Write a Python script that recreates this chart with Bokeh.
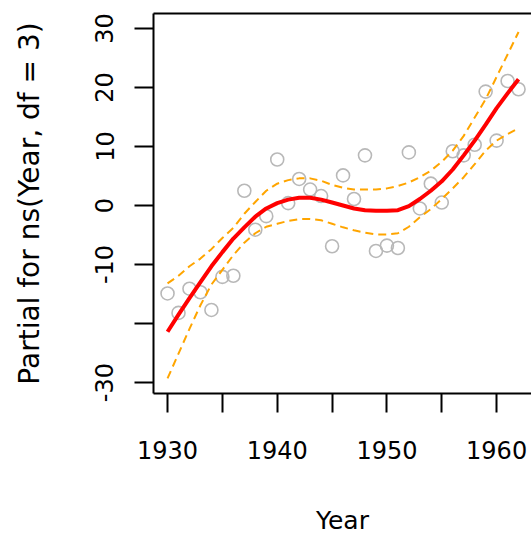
from bokeh.plotting import figure
from bokeh.models import LinearAxis, FixedTicker, Range1d
from bokeh.embed import file_html
from bokeh.resources import INLINE

years = list(range(1930, 1963))
partial = [-14.9, -18.2, -14.1, -14.7, -17.7, -12.1, -11.9, 2.5, -4.1, -1.8,
           7.8, 0.4, 4.5, 2.7, 1.6, -6.9, 5.1, 1.1, 8.5, -7.7,
           -6.8, -7.2, 9.0, -0.5, 3.7, 0.5, 9.2, 8.5, 10.3, 19.3,
           11.0, 21.1, 19.7]
fit = [-21.4, -18.5, -15.7, -13.0, -10.3, -7.9, -5.6, -3.7, -1.9, -0.5,
       0.4, 1.0, 1.3, 1.3, 1.0, 0.5, 0.0, -0.5, -0.8, -0.9,
       -0.9, -0.8, -0.1, 1.1, 2.5, 4.1, 6.1, 8.5, 11.0, 13.7,
       16.5, 19.0, 21.4]
upper = [-13.2, -11.9, -10.3, -9.0, -7.4, -5.5, -3.8, -1.4, 0.6, 2.5,
         3.7, 4.3, 4.6, 4.6, 4.2, 3.5, 3.0, 2.7, 2.7, 2.7,
         2.9, 3.3, 3.9, 4.8, 5.9, 7.4, 9.3, 11.8, 14.9, 18.0,
         21.8, 25.6, 29.4]
lower = [-29.3, -25.1, -20.9, -16.9, -13.4, -10.9, -8.4, -6.3, -4.7, -3.6,
         -3.1, -2.6, -2.3, -2.3, -2.5, -3.1, -3.7, -4.2, -4.6, -4.9,
         -4.9, -4.7, -3.6, -2.0, -0.6, 1.1, 2.9, 4.8, 7.0, 9.3,
         11.0, 12.1, 13.1]

x_ticks = [1930, 1935, 1940, 1945, 1950, 1955, 1960]
x_tick_labels = ["1930", "", "1940", "", "1950", "", "1960"]
y_ticks = [-30, -20, -10, 0, 10, 20, 30]
y_tick_labels = ["-30", "", "-10", "0", "10", "20", "30"]
x_label = "Year"
y_label = "Partial for ns(Year, df = 3)"

FONT = "DejaVu Sans"

p = figure(width=531, height=540, output_backend="svg", toolbar_location=None,
           x_range=Range1d(1928.72, 1963.18), y_range=Range1d(-31.86, 32.54),
           min_border_left=153, min_border_right=0, min_border_top=13,
           min_border_bottom=147)
p.outline_line_color = None
p.xgrid.visible = False
p.ygrid.visible = False
p.background_fill_color = "white"
p.border_fill_color = "white"

p.scatter(years, partial, size=13, marker="circle", fill_color=None,
          line_color="#b8b8b8", line_width=1.6)
p.line(years, upper, line_color="#ffa500", line_width=2, line_dash="8 5")
p.line(years, lower, line_color="#ffa500", line_width=2, line_dash="8 5")
p.line(years, fit, line_color="#ff0000", line_width=4)

for ax in (p.xaxis[0], p.yaxis[0]):
    ax.axis_line_width = 2
    ax.axis_line_color = "black"
    ax.major_tick_line_width = 2
    ax.major_tick_line_color = "black"
    ax.major_tick_out = 19
    ax.major_tick_in = 0
    ax.minor_tick_line_color = None
    ax.major_label_text_font = FONT
    ax.major_label_text_color = "black"
    ax.axis_label_text_font = FONT
    ax.axis_label_text_font_style = "normal"
    ax.axis_label_text_color = "black"

xa = p.xaxis[0]
xa.ticker = FixedTicker(ticks=x_ticks)
xa.major_label_overrides = dict(zip(x_ticks, x_tick_labels))
xa.major_label_text_font_size = "24px"
xa.major_label_standoff = 28
xa.axis_label = x_label
xa.axis_label_text_font_size = "25px"
xa.axis_label_standoff = 44

ya = p.yaxis[0]
ya.ticker = FixedTicker(ticks=y_ticks)
ya.major_label_overrides = dict(zip(y_ticks, y_tick_labels))
ya.major_label_text_font_size = "24px"
ya.major_label_orientation = "vertical"
ya.major_label_standoff = 21
ya.axis_label = y_label
ya.axis_label_text_font_size = "28px"
ya.axis_label_standoff = 47

top = LinearAxis(ticker=FixedTicker(ticks=[]), major_tick_out=0, major_tick_in=0,
                 minor_tick_out=0, minor_tick_in=0, major_label_text_font_size="0px",
                 major_label_standoff=0, axis_line_width=2, axis_line_color="black")
p.add_layout(top, "above")

open("out.html", "w").write(file_html(p, INLINE))
